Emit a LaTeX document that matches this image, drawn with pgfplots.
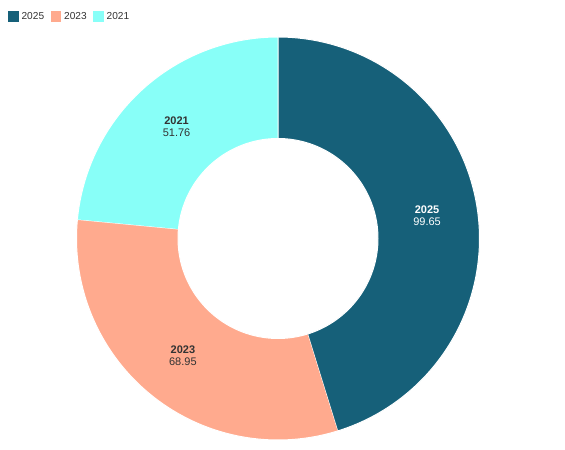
\documentclass[border=0pt]{standalone}
\usepackage{pgfplots}
\pgfplotsset{compat=1.18}
\usepackage{fontspec}
\setmainfont{Liberation Sans}
\definecolor{cA}{HTML}{166079}
\definecolor{cB}{HTML}{FFAA8E}
\definecolor{cC}{HTML}{88FFF8}
\definecolor{txt}{HTML}{333333}
% data
\def\vA{99.65}\def\vB{68.95}\def\vC{51.76}
\pgfmathsetmacro\tot{\vA+\vB+\vC}
\pgfmathsetmacro\aA{90}
\pgfmathsetmacro\aB{90-360*(\vA/\tot)}
\pgfmathsetmacro\aC{\aB-360*(\vB/\tot)}
\pgfmathsetmacro\aD{\aC-360*(\vC/\tot)}
\pgfmathsetmacro\mA{(\aA+\aB)/2}
\pgfmathsetmacro\mB{(\aB+\aC)/2}
\pgfmathsetmacro\mC{(\aC+\aD)/2}
\def\cx{278}\def\cy{211.5}\def\Ro{201.5}\def\Ri{100}
\pgfmathsetmacro\Rm{(\Ro+\Ri)/2}
\newcommand\seg[3]{%
\addplot[fill=#1, draw=white, line width=0.75pt, domain=0:2, samples=241, variable=\t]
 ({\cx+(\t<=1)*\Ro*cos(#2+(#3-#2)*min(1.02*\t,1))+(\t>1)*\Ri*cos(#3-(#3-#2)*max(1.02*(\t-1)-0.02,0))},
  {\cy+(\t<=1)*\Ro*sin(#2+(#3-#2)*min(1.02*\t,1))+(\t>1)*\Ri*sin(#3-(#3-#2)*max(1.02*(\t-1)-0.02,0))});}
\begin{document}
\begin{tikzpicture}
\begin{axis}[
  scale only axis, width=423.75pt, height=337.5pt,
  xmin=0, xmax=565, ymin=0, ymax=450,
  hide axis, clip=false,
  legend style={at={(axis cs:8,441)}, anchor=north west, draw=none, fill=none,
    font=\fontsize{7.6}{9}\selectfont, text=txt, inner sep=0pt},
  legend columns=3,
  legend cell align=left,
  /tikz/every even column/.append style={column sep=3pt},
  legend image code/.code={\fill[#1, draw=none] (0pt,-4pt) rectangle (8pt,4pt);},
]
\path (axis cs:0,0) rectangle (axis cs:565,450);
\seg{cA}{\aA}{\aB}
\addlegendentry{2025}
\seg{cB}{\aB}{\aC}
\addlegendentry{2023}
\seg{cC}{\aC}{\aD}
\addlegendentry{2021}
\node[align=center, text=white, font=\fontsize{8.25}{9}\selectfont] at (axis cs:{\cx+\Rm*cos(\mA)},{\cy+\Rm*sin(\mA)}) {\textbf{2025}\\99.65};
\node[align=center, text=txt, font=\fontsize{8.25}{9}\selectfont] at (axis cs:{\cx+\Rm*cos(\mB)},{\cy+\Rm*sin(\mB)}) {\textbf{2023}\\68.95};
\node[align=center, text=txt, font=\fontsize{8.25}{9}\selectfont] at (axis cs:{\cx+\Rm*cos(\mC)},{\cy+\Rm*sin(\mC)}) {\textbf{2021}\\51.76};
\end{axis}
\end{tikzpicture}
\end{document}
